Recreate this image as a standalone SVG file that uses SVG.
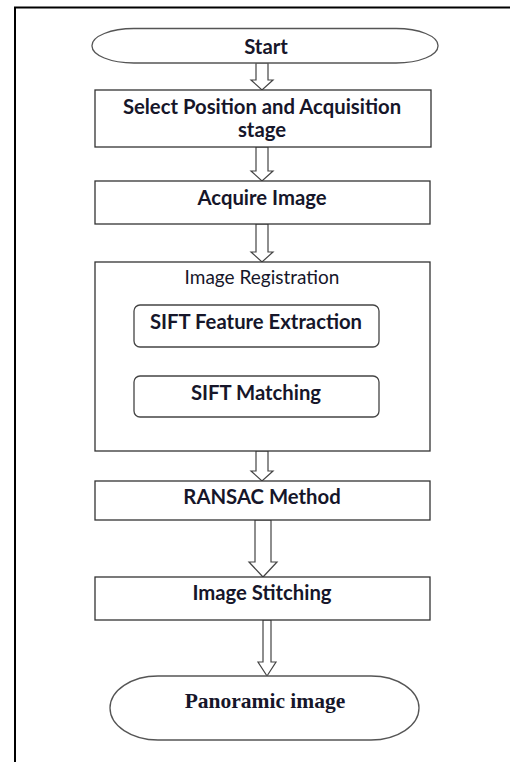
<svg xmlns="http://www.w3.org/2000/svg" width="510" height="762" viewBox="0 0 510 762">
<style>
.box{fill:#fff;stroke:#333;stroke-width:1.3}
.term{fill:#fff;stroke:#555;stroke-width:1.3}
.sub{fill:#fff;stroke:#444;stroke-width:1.3}
.t{font-family:Lato,"Open Sans",sans-serif;font-weight:bold;font-size:20.3px;fill:#16162a;text-anchor:middle}
.tn{font-family:Lato,"Open Sans",sans-serif;font-size:19px;fill:#16162a;text-anchor:middle}
.ts{font-family:"Liberation Serif",serif;font-weight:bold;font-size:21.5px;fill:#16162a;text-anchor:middle}
.arr{fill:#fff;stroke:#444;stroke-width:1.2}
</style>
<rect width="510" height="762" fill="#fff"/>
<path d="M15 762V7.5H510" fill="none" stroke="#000" stroke-width="2"/>
<g id="connectors">
<path class="arr" d="M256 63V80H251L262 90L273 80H268V63Z"/>
<path class="arr" d="M256 147V171H251L262 181L273 171H268V147Z"/>
<path class="arr" d="M256 224V252H251L262 262L273 252H268V224Z"/>
<path class="arr" d="M256 451V471H251L262 481L273 471H268V451Z"/>
<path class="arr" d="M255 520V562H249L263 577L277 562H271V520Z"/>
<path class="arr" d="M263 620V662H258L267 676L276 662H271V620Z"/>
</g>
<g id="start">
<rect class="term" x="92" y="28.5" width="346" height="34.5" rx="42" ry="17"/>
<text class="t" x="266" y="54">Start</text>
</g>
<g id="select">
<rect class="box" x="95" y="90" width="336" height="57"/>
<text class="t" x="262" y="114">Select Position and Acquisition</text>
<text class="t" x="262" y="137">stage</text>
</g>
<g id="acquire">
<rect class="box" x="95" y="181" width="335" height="43"/>
<text class="t" x="262" y="205">Acquire Image</text>
</g>
<g id="registration">
<rect class="box" x="95" y="262" width="335" height="189"/>
<text class="tn" x="262" y="284">Image Registration</text>
</g>
<g id="sift-extraction">
<rect class="sub" x="134" y="305" width="245" height="42" rx="6"/>
<text class="t" x="256" y="329">SIFT Feature Extraction</text>
</g>
<g id="sift-matching">
<rect class="sub" x="134" y="376" width="245" height="41" rx="6"/>
<text class="t" x="256" y="400">SIFT Matching</text>
</g>
<g id="ransac">
<rect class="box" x="95" y="481" width="335" height="39"/>
<text class="t" x="262" y="504">RANSAC Method</text>
</g>
<g id="stitching">
<rect class="box" x="95" y="577" width="335" height="43"/>
<text class="t" x="262" y="600">Image Stitching</text>
</g>
<g id="panoramic">
<rect class="term" x="110" y="676" width="309" height="64" rx="48" ry="32"/>
<text class="ts" x="265" y="708">Panoramic image</text>
</g>
</svg>
